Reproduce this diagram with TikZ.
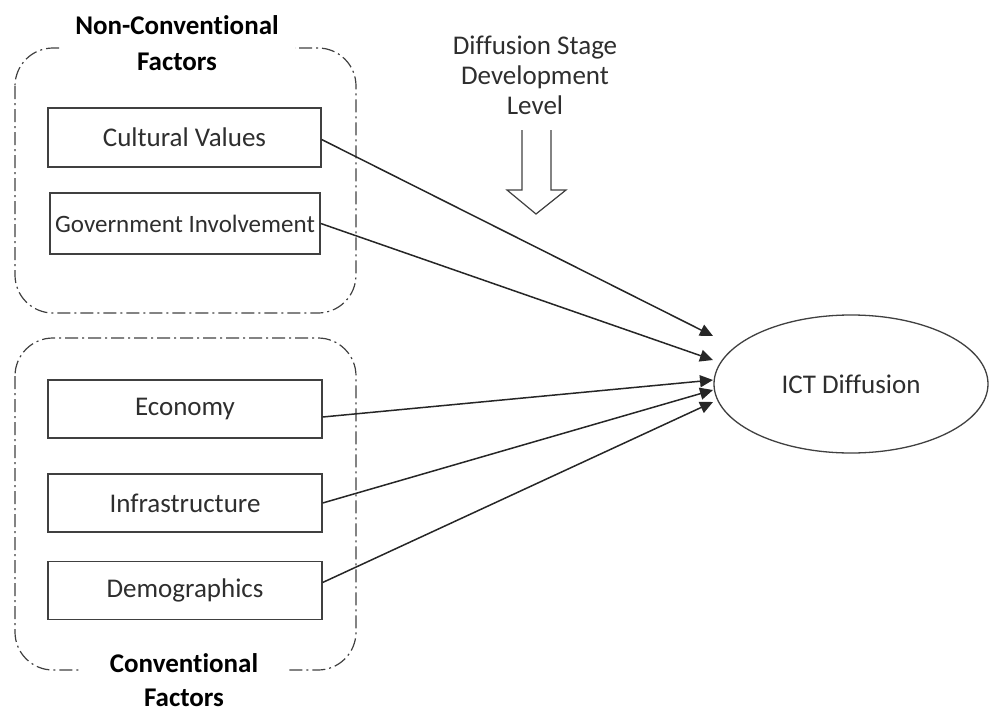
\documentclass[tikz,border=0pt]{standalone}
\usepackage{fontspec}
\setmainfont{Carlito}[Ligatures={NoCommon,NoContextual}]
\usetikzlibrary{arrows.meta,shapes.geometric}
\definecolor{ink}{HTML}{2E2E2E}
\definecolor{frame}{HTML}{404040}
\begin{document}
\begin{tikzpicture}[x=1pt,y=-1pt,
  factor/.style={draw=frame,line width=1.3pt,minimum width=274pt,minimum height=58pt,
    inner sep=0pt,text=ink,font=\fontsize{27}{32}\selectfont},
  group/.style={draw=frame,line width=1.2pt,rounded corners=38pt,
    dash pattern=on 13pt off 4pt on 2pt off 4pt},
  grouptitle/.style={font=\bfseries\fontsize{27}{36}\selectfont,align=center,
    fill=white,inner sep=0pt},
  link/.style={draw=black!85,line width=1.5pt,-{Triangle[length=13pt,width=12pt]}},
  hollow/.style={draw=frame,line width=1.2pt,line join=miter},
]
\useasboundingbox (0,0) rectangle (989,715);

% dash-dotted groupings
\draw[group] (15,48) rectangle (356,313);
\draw[group] (15,338) rectangle (356,670);

% group titles, breaking the frame line
\node[grouptitle,minimum width=235pt] (nctitle) at (177,43.5) {Non-Conventional\\Factors};
\node[grouptitle,minimum width=205pt,font=\bfseries\fontsize{27}{34}\selectfont]
  (ctitle) at (184,680) {Conventional\\Factors};

% factor boxes
\node[factor,minimum width=273pt,minimum height=59pt] (cv) at (184.5,137.5) {Cultural Values};
\node[factor,minimum width=270pt,minimum height=61pt,line width=1.6pt,
  font=\fontsize{25}{30}\selectfont] (gov) at (185,223.5) {Government Involvement};
\node[factor] (eco) at (185,409) {Economy};
\node[factor] (inf) at (185,503) {Infrastructure};
\node[factor] (dem) at (185,590.5) {Demographics};

% outcome
\node[ellipse,draw=frame,line width=1.3pt,minimum width=274pt,minimum height=138pt,
  inner sep=0pt,text=ink,font=\fontsize{27}{32}\selectfont] (ict) at (851,384) {ICT Diffusion};

% moderating label and hollow arrow
\node[align=center,text=ink,font=\fontsize{27}{30}\selectfont] (stage) at (535,75)
  {Diffusion Stage\\Development\\Level};
\draw[hollow] (522,130) -- (522,190) -- (507,190) -- (536,214) -- (566,190)
  -- (551,190) -- (551,130);

% arrow end points on the ellipse side
\coordinate (t1) at (713,336);
\coordinate (t2) at (713,360);
\coordinate (t3) at (713,380);
\coordinate (t4) at (713,390);
\coordinate (t5) at (713,402);

\draw[link] ([yshift=-2pt]cv.east) -- (t1);
\draw[link] (gov.east) -- (t2);
\draw[link] ([yshift=-8pt]eco.east) -- (t3);
\draw[link] (inf.east) -- (t4);
\draw[link] ([yshift=8pt]dem.east) -- (t5);
\end{tikzpicture}
\end{document}
